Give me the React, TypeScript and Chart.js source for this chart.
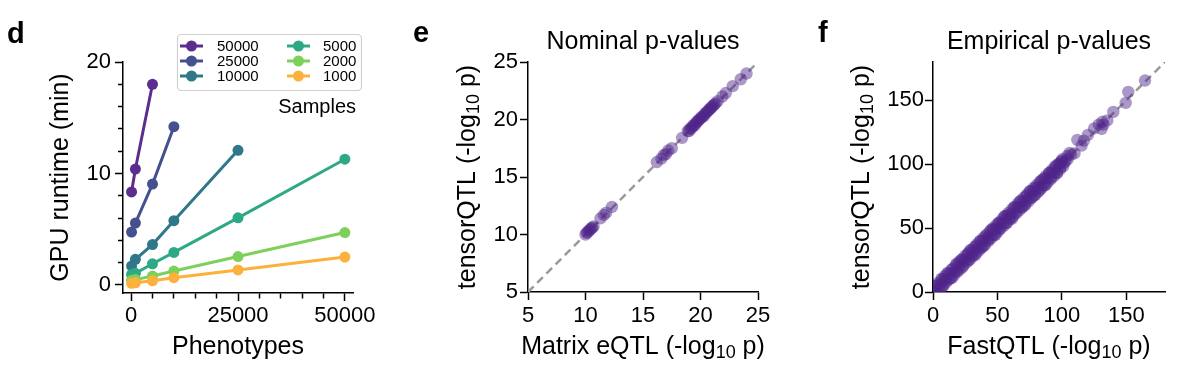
import { useEffect, useRef } from "react";
import { Chart, registerables } from "chart.js";

Chart.register(...registerables);

const FONT = '"Liberation Sans", Arial, "DejaVu Sans", sans-serif';

// ---------- Panel d: GPU runtime vs phenotypes ----------
const phenotypes = [100, 1000, 5000, 10000, 25000, 50000];
const sampleSizes = ["50000", "25000", "10000", "5000", "2000", "1000"];
const runtime50000 = [8.35, 10.4, 18.0];
const runtime25000 = [4.75, 5.55, 9.05, 14.2];
const runtime10000 = [1.7, 2.3, 3.62, 5.77, 12.08];
const runtime5000 = [0.95, 1.05, 1.9, 2.92, 6.02, 11.28];
const runtime2000 = [0.42, 0.48, 0.8, 1.25, 2.55, 4.7];
const runtime1000 = [0.15, 0.2, 0.38, 0.65, 1.35, 2.5];
const seriesColors = ["#5c2d8f", "#45508f", "#2f788a", "#2fa886", "#7dd05a", "#fbb13c"];
const dXTickValues = [0, 5000, 10000, 15000, 20000, 25000, 30000, 35000, 40000, 45000, 50000];
const dXTickLabels = ["0", "", "", "", "", "25000", "", "", "", "", "50000"];
const dYTickValues = [0, 2, 4, 6, 8, 10, 12, 14, 16, 18, 20];
const dYTickLabels = ["0", "", "", "", "", "10", "", "", "", "", "20"];

// ---------- Panel e: nominal p-values ----------
const matrixEqtl = [
  10.0, 10.1, 10.2, 10.3, 10.4, 10.5, 10.6, 10.7, 11.3, 11.6, 11.8, 12.3,
  16.2, 16.6, 16.8, 17.0, 17.2, 17.5, 18.4, 18.9, 19.0, 19.1, 19.2, 19.3,
  19.4, 19.5, 19.6, 19.7, 19.8, 19.9, 20.0, 20.1, 20.2, 20.3, 20.4, 20.5,
  20.6, 20.7, 20.8, 20.9, 21.0, 21.1, 21.2, 21.3, 21.5, 21.9, 22.2, 22.8,
  23.5, 24.0,
];
const tensorNominal = [
  10.0, 10.15, 10.2, 10.35, 10.4, 10.55, 10.6, 10.7, 11.4, 11.7, 11.9, 12.4,
  16.3, 16.6, 16.9, 17.0, 17.3, 17.5, 18.4, 19.0, 19.0, 19.2, 19.2, 19.4,
  19.5, 19.5, 19.7, 19.8, 19.9, 20.0, 20.1, 20.2, 20.3, 20.3, 20.5, 20.6,
  20.7, 20.8, 20.9, 21.0, 21.1, 21.2, 21.3, 21.4, 21.6, 22.0, 22.3, 22.9,
  23.5, 24.0,
];
const eTickValues = [5, 10, 15, 20, 25];
const eTickLabels = ["5", "10", "15", "20", "25"];
const eDiagonal = [5, 25];

// ---------- Panel f: empirical p-values ----------
const fastQtl = [
  0.8, 2.1, 3.0, 4.4, 5.2, 6.6, 7.5, 8.9, 9.7, 11.2, 12.4, 13.1, 14.8, 15.6,
  17.0, 18.3, 19.1, 20.7, 21.5, 23.0, 24.2, 25.1, 26.8, 27.6, 29.0, 30.3,
  31.2, 32.9, 33.5, 35.1, 36.4, 37.2, 38.8, 39.6, 41.0, 42.5, 43.3, 44.9,
  45.7, 47.1, 48.4, 49.2, 50.8, 51.6, 53.0, 54.3, 55.4, 56.9, 57.7, 59.2,
  60.5, 61.3, 62.8, 63.9, 65.1, 66.6, 67.4, 68.7, 70.0, 71.3, 72.6, 73.5,
  75.0, 76.2, 77.4, 78.9, 79.8, 81.3, 82.5, 83.6, 85.1, 86.3, 87.5, 88.8,
  90.2, 91.4, 92.3, 93.9, 95.0, 96.2, 97.6, 98.8, 99.5, 100.4, 101.5, 102.8,
  103.9, 104.6, 106.0, 107.2, 109.8, 112.0, 115.3, 117.1, 120.2, 125.0,
  128.6, 130.8, 131.4, 132.3, 135.2, 139.9, 149.5, 151.5, 164.5,
  1.5, 2.6, 3.7, 5.9, 7.0, 8.1, 9.3, 10.4, 11.8, 13.7, 14.3, 16.2, 17.6,
  18.9, 20.1, 21.0, 22.3, 23.6, 24.8, 26.0, 27.2, 28.4, 29.6, 30.8, 32.1,
  33.2, 34.3, 35.7, 36.9, 38.0, 39.2, 40.4, 41.6, 42.9, 44.1, 45.2, 46.4,
  47.7, 48.9, 50.1, 51.2, 52.4, 53.7, 54.9, 56.1, 57.3, 58.5, 59.8, 61.0,
  62.1, 63.3, 64.6, 65.8, 67.0, 68.1, 69.4, 70.6, 71.8, 73.0, 74.2, 75.5,
  76.7, 77.9, 79.1, 80.3, 81.6, 82.8, 84.0, 85.2, 86.5, 87.7, 88.9, 90.1,
  91.3, 92.6, 93.8, 95.0, 96.3, 97.5, 98.6, 99.9, 101.0,
];
const tensorEmpirical = [
  3.9, 0.7, 5.2, 1.5, 5.8, 10.4, 4.2, 10.4, 8.9, 14.7, 9.8, 14.0, 11.1, 18.4,
  15.9, 22.2, 16.9, 21.0, 24.8, 19.5, 26.0, 24.7, 29.4, 24.6, 32.7, 28.6,
  32.0, 29.0, 35.9, 34.5, 39.8, 34.4, 40.0, 36.2, 43.9, 42.6, 41.0, 48.5,
  44.2, 49.1, 44.8, 49.7, 53.8, 49.1, 54.6, 53.4, 59.2, 53.8, 60.0, 58.0,
  61.2, 57.5, 66.0, 61.9, 66.5, 66.3, 70.9, 66.0, 70.9, 67.8, 75.2, 72.5,
  78.9, 73.8, 78.5, 75.7, 81.9, 81.5, 79.6, 86.9, 83.5, 89.0, 83.8, 89.2,
  93.3, 89.3, 94.2, 93.2, 98.6, 92.9, 100.0, 97.5, 101.8, 104.0, 100.8, 102.2,
  106.2, 104.0, 108.8, 107.5, 108.5, 119.0, 114.6, 118.4, 123.0, 128.0,
  131.0, 127.6, 133.2, 131.0, 134.3, 140.9, 148.0, 156.6, 165.5,
  4.8, 0.2, 7.0, 2.8, 9.9, 5.0, 12.6, 7.6, 15.0, 10.6, 17.5, 13.1, 20.8,
  15.6, 23.4, 17.8, 25.5, 20.7, 28.2, 22.9, 30.5, 25.3, 33.0, 27.6, 35.4,
  30.2, 37.7, 32.4, 40.2, 35.0, 42.5, 37.3, 45.0, 39.8, 47.3, 42.1, 49.9,
  44.6, 52.2, 47.0, 54.5, 49.6, 57.0, 51.8, 59.5, 54.2, 61.9, 56.6, 64.4,
  59.0, 66.8, 61.5, 69.2, 63.9, 71.6, 66.2, 74.0, 68.9, 76.3, 71.0, 78.8,
  73.6, 81.2, 76.0, 83.6, 78.4, 86.0, 80.9, 88.3, 83.2, 90.9, 85.8, 93.2,
  88.1, 95.8, 90.6, 98.1, 93.4, 100.4, 95.9, 102.6, 98.3,
];
const fTickValues = [0, 50, 100, 150];
const fTickLabels = ["0", "50", "100", "150"];
const fDiagonal = [0, 180];

// axis titles with a subscript: [before, subscript, after]
const eXTitle = ["Matrix eQTL (-log", "10", " p)"];
const fXTitle = ["FastQTL (-log", "10", " p)"];
const tensorYTitle = ["tensorQTL (-log", "10", " p)"];

const POINT_COLOR = "rgba(78, 36, 138, 0.47)";
const DASH_COLOR = "#9a9a9a";

function axis(opts: {
  min: number;
  max: number;
  values: number[];
  labels: string[];
  title: string;
  showTitle: boolean;
  tickPad: number;
  size: number;
  vertical: boolean;
}) {
  const { min, max, values, labels, title, showTitle, tickPad, size, vertical } = opts;
  return {
    type: "linear",
    min,
    max,
    afterBuildTicks: (scale: any) => {
      scale.ticks = values.map((v) => ({ value: v }));
    },
    afterFit: (scale: any) => {
      if (vertical) scale.width = size;
      else scale.height = size;
    },
    ticks: {
      autoSkip: false,
      maxRotation: 0,
      minRotation: 0,
      padding: tickPad,
      color: "#000",
      font: { family: FONT, size: 22 },
      callback: (_v: any, i: number) => labels[i],
    },
    grid: {
      display: true,
      drawOnChartArea: false,
      drawTicks: true,
      tickLength: 8,
      tickWidth: 1.5,
      tickColor: "#000",
      tickBorderDash: (c: any) =>
        labels[c.index] ? [] : vertical ? [0, 3, 5, 0] : [5, 3],
    },
    border: { display: true, color: "#000", width: 1.5 },
    title: {
      display: showTitle,
      text: title,
      color: "#000",
      font: { family: FONT, size: 25 },
      padding: 0,
    },
  };
}

function drawSubTitle(ctx: any, parts: string[], cx: number, cy: number, rotate: boolean) {
  ctx.save();
  ctx.translate(cx, cy);
  if (rotate) ctx.rotate(-Math.PI / 2);
  ctx.fillStyle = "#000";
  ctx.textBaseline = "middle";
  ctx.textAlign = "left";
  const big = `25px ${FONT}`;
  const small = `18px ${FONT}`;
  ctx.font = big;
  const w0 = ctx.measureText(parts[0]).width;
  const w2 = ctx.measureText(parts[2]).width;
  ctx.font = small;
  const w1 = ctx.measureText(parts[1]).width;
  let x = -(w0 + w1 + w2) / 2;
  ctx.font = big;
  ctx.fillText(parts[0], x, 0);
  x += w0;
  ctx.font = small;
  ctx.fillText(parts[1], x, 6);
  x += w1;
  ctx.font = big;
  ctx.fillText(parts[2], x, 0);
  ctx.restore();
}

function scatterDecor(letter: string, letterX: number, xTitle: string[], yTitle: string[]) {
  return {
    id: "decor" + letter,
    afterDraw(chart: any) {
      const ctx = chart.ctx;
      const a = chart.chartArea;
      const xs = chart.scales.x;
      const ys = chart.scales.y;
      drawSubTitle(ctx, xTitle, (a.left + a.right) / 2, xs.bottom - 15, false);
      drawSubTitle(ctx, yTitle, ys.left + 15, (a.top + a.bottom) / 2, true);
      ctx.save();
      ctx.font = `bold 29px ${FONT}`;
      ctx.fillStyle = "#000";
      ctx.textAlign = "left";
      ctx.textBaseline = "alphabetic";
      ctx.fillText(letter, letterX, 42);
      ctx.restore();
    },
  };
}

const dDecor = {
  id: "samplesLegend",
  afterDraw(chart: any) {
    const ctx = chart.ctx;
    ctx.save();
    ctx.font = `bold 29px ${FONT}`;
    ctx.fillStyle = "#000";
    ctx.textAlign = "left";
    ctx.textBaseline = "alphabetic";
    ctx.fillText("d", 7, 43);
    ctx.beginPath();
    ctx.roundRect(177.5, 34.5, 184, 56, 4);
    ctx.fillStyle = "rgba(255,255,255,0.85)";
    ctx.fill();
    ctx.strokeStyle = "#d0d0d0";
    ctx.lineWidth = 1.2;
    ctx.stroke();
    chart.data.datasets.forEach((ds: any, i: number) => {
      const col = Math.floor(i / 3);
      const row = i % 3;
      const x0 = col ? 287 : 180;
      const y = 46 + row * 15;
      ctx.strokeStyle = ds.borderColor;
      ctx.lineWidth = 3;
      ctx.beginPath();
      ctx.moveTo(x0, y);
      ctx.lineTo(x0 + 23, y);
      ctx.stroke();
      ctx.fillStyle = ds.borderColor;
      ctx.beginPath();
      ctx.arc(x0 + 11.5, y, 5.5, 0, Math.PI * 2);
      ctx.fill();
      ctx.fillStyle = "#000";
      ctx.font = `15px ${FONT}`;
      ctx.textAlign = "left";
      ctx.textBaseline = "middle";
      ctx.fillText(ds.label, col ? 323 : 217, y + 1);
    });
    ctx.font = `20px ${FONT}`;
    ctx.textAlign = "right";
    ctx.textBaseline = "alphabetic";
    ctx.fillStyle = "#000";
    ctx.fillText("Samples", 356, 113);
    ctx.restore();
  },
};

function makeD(): any {
  const runtimes = [runtime50000, runtime25000, runtime10000, runtime5000, runtime2000, runtime1000];
  return {
    type: "line",
    data: {
      datasets: sampleSizes.map((s, i) => ({
        label: s,
        data: runtimes[i].map((y, j) => ({ x: phenotypes[j], y })),
        borderColor: seriesColors[i],
        backgroundColor: seriesColors[i],
        borderWidth: 3,
        pointRadius: 5.5,
        pointHoverRadius: 5.5,
        pointBorderWidth: 0,
        tension: 0,
        order: sampleSizes.length - i,
      })),
    },
    options: {
      animation: false,
      responsive: false,
      devicePixelRatio: 1,
      events: [],
      layout: { padding: { left: 46, top: 62, right: 847, bottom: 28 } },
      plugins: { legend: { display: false }, tooltip: { enabled: false }, title: { display: false } },
      scales: {
        x: axis({ min: -1900, max: 51900, values: dXTickValues, labels: dXTickLabels, title: "Phenotypes", showTitle: true, tickPad: 2, size: 69, vertical: false }),
        y: axis({ min: -0.72, max: 20, values: dYTickValues, labels: dYTickLabels, title: "GPU runtime (min)", showTitle: true, tickPad: 4, size: 77, vertical: true }),
      },
    },
    plugins: [dDecor],
  };
}

function makeScatter(p: {
  xs: number[];
  ys: number[];
  diag: number[];
  min: number;
  max: number;
  values: number[];
  labels: string[];
  xTitle: string[];
  yTitle: string[];
  title: string;
  padLeft: number;
  padRight: number;
  yWidth: number;
  yTickPad: number;
  letter: string;
  letterX: number;
}): any {
  return {
    type: "scatter",
    data: {
      datasets: [
        {
          label: "tests",
          data: p.xs.map((x, i) => ({ x, y: p.ys[i] })),
          backgroundColor: POINT_COLOR,
          borderWidth: 0,
          pointRadius: 6.2,
          pointHoverRadius: 6.2,
          order: 1,
        },
        {
          label: "y = x",
          data: p.diag.map((v) => ({ x: v, y: v })),
          showLine: true,
          borderColor: DASH_COLOR,
          borderWidth: 2.5,
          borderDash: [8, 5],
          pointRadius: 0,
          order: 2,
        },
      ],
    },
    options: {
      animation: false,
      responsive: false,
      devicePixelRatio: 1,
      events: [],
      layout: { padding: { left: p.padLeft, top: 27, right: p.padRight, bottom: 28 } },
      plugins: {
        legend: { display: false },
        tooltip: { enabled: false },
        title: {
          display: true,
          text: p.title,
          fullSize: false,
          color: "#000",
          font: { family: FONT, size: 25, weight: "normal" },
          padding: { top: 0, bottom: 5 },
        },
      },
      scales: {
        x: axis({ min: p.min, max: p.max, values: p.values, labels: p.labels, title: p.xTitle.join(""), showTitle: false, tickPad: 3, size: 70, vertical: false }),
        y: axis({ min: p.min, max: p.max, values: p.values, labels: p.labels, title: p.yTitle.join(""), showTitle: false, tickPad: p.yTickPad, size: p.yWidth, vertical: true }),
      },
    },
    plugins: [scatterDecor(p.letter, p.letterX, p.xTitle, p.yTitle)],
  };
}

export default function App() {
  const dRef = useRef<HTMLCanvasElement>(null);
  const eRef = useRef<HTMLCanvasElement>(null);
  const fRef = useRef<HTMLCanvasElement>(null);

  useEffect(() => {
    const charts = [
      new Chart(dRef.current as HTMLCanvasElement, makeD()),
      new Chart(
        eRef.current as HTMLCanvasElement,
        makeScatter({
          xs: matrixEqtl,
          ys: tensorNominal,
          diag: eDiagonal,
          min: 5,
          max: 25,
          values: eTickValues,
          labels: eTickLabels,
          xTitle: eXTitle,
          yTitle: tensorYTitle,
          title: "Nominal p-values",
          padLeft: 453,
          padRight: 442,
          yWidth: 75,
          yTickPad: 2,
          letter: "e",
          letterX: 413,
        })
      ),
      new Chart(
        fRef.current as HTMLCanvasElement,
        makeScatter({
          xs: fastQtl,
          ys: tensorEmpirical,
          diag: fDiagonal,
          min: 0,
          max: 180,
          values: fTickValues,
          labels: fTickLabels,
          xTitle: fXTitle,
          yTitle: tensorYTitle,
          title: "Empirical p-values",
          padLeft: 847,
          padRight: 35,
          yWidth: 86,
          yTickPad: 1,
          letter: "f",
          letterX: 818,
        })
      ),
    ];
    return () => charts.forEach((c) => c.destroy());
  }, []);

  const canvasStyle: any = { position: "absolute", left: 0, top: 0, width: 1200, height: 390 };
  return (
    <div style={{ position: "fixed", left: 0, top: 0, width: 1200, height: 390, background: "#fff" }}>
      <canvas ref={dRef} width={1200} height={390} style={canvasStyle} />
      <canvas ref={eRef} width={1200} height={390} style={canvasStyle} />
      <canvas ref={fRef} width={1200} height={390} style={canvasStyle} />
    </div>
  );
}
